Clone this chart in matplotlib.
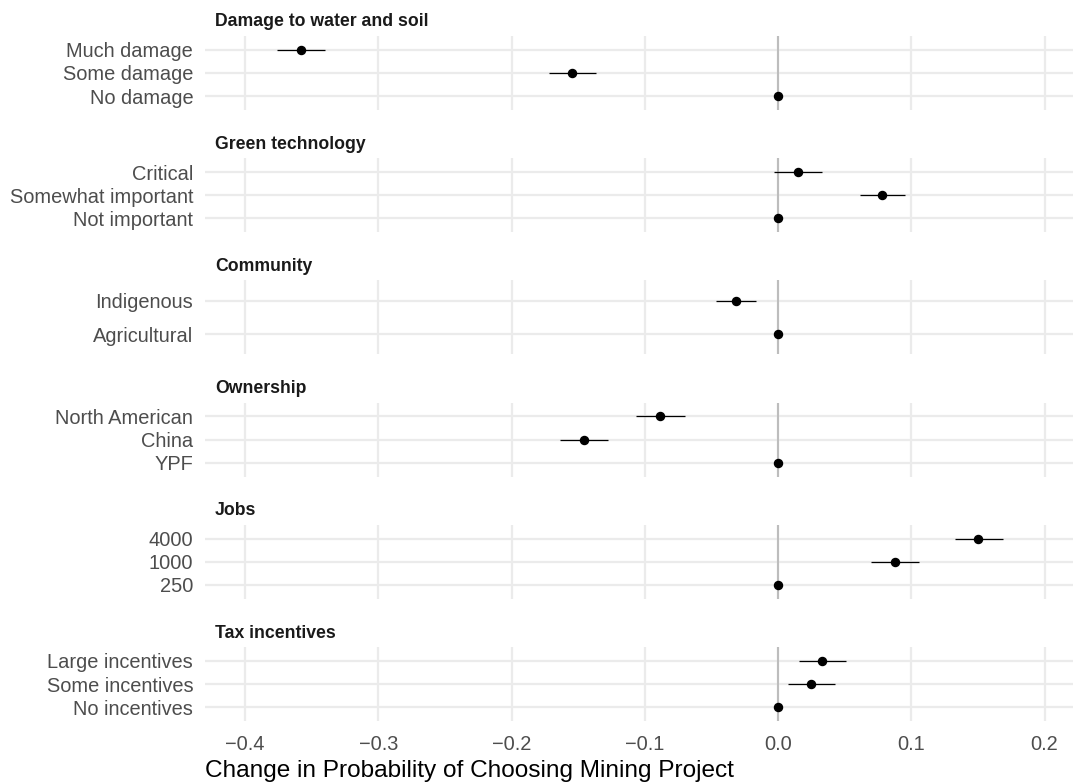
import numpy as np
import matplotlib
matplotlib.use("Agg")
from matplotlib import pyplot as plt

plt.rcParams['font.family'] = ['Liberation Sans', 'DejaVu Sans']

## Attribute groups (facets), levels listed top to bottom
groups = ["Damage to water and soil", "Green technology", "Community",
          "Ownership", "Jobs", "Tax incentives"]

levels = [["Much damage", "Some damage", "No damage"],
          ["Critical", "Somewhat important", "Not important"],
          ["Indigenous", "Agricultural"],
          ["North American", "China", "YPF"],
          ["4000", "1000", "250"],
          ["Large incentives", "Some incentives", "No incentives"]]

## point estimates
est = [[-0.358, -0.1545, 0.0],
       [0.0147, 0.0778, 0.0],
       [-0.0318, 0.0],
       [-0.0885, -0.1458, 0.0],
       [0.1503, 0.0876, 0.0],
       [0.0330, 0.0248, 0.0]]

## lower / upper interval bounds
lo = [[-0.376, -0.172, 0.0],
      [-0.003, 0.0613, 0.0],
      [-0.0463, 0.0],
      [-0.1065, -0.1635, 0.0],
      [0.1325, 0.0700, 0.0],
      [0.0157, 0.0075, 0.0]]
hi = [[-0.340, -0.1365, 0.0],
      [0.0330, 0.0953, 0.0],
      [-0.0165, 0.0],
      [-0.0698, -0.1273, 0.0],
      [0.1688, 0.1057, 0.0],
      [0.0508, 0.0426, 0.0]]

xticks = [-0.4, -0.3, -0.2, -0.1, 0.0, 0.1, 0.2]
xlabel = "Change in Probability of Choosing Mining Project"

W, H = 1073., 782.
fig = plt.figure(figsize=(W/100, H/100), dpi=100)

left_px, right_px = 205, 1073
top0, step, ph = 36, 122.2, 74

for i, g in enumerate(groups):
    top = top0 + i*step
    ax = fig.add_axes([left_px/W, 1 - (top+ph)/H, (right_px-left_px)/W, ph/H])
    n = len(levels[i])
    ypos = np.arange(n)[::-1]

    ax.axvline(0, color='#bdbdbd', lw=1.5, zorder=2)
    ax.hlines(ypos, lo[i], hi[i], color='black', lw=0.9, zorder=3)
    ax.plot(est[i], ypos, 'o', color='black', ms=5.8, zorder=4)

    ax.set_xlim(-0.43, 0.2213)
    ax.set_ylim(-0.6, n - 0.4)
    ax.set_yticks(ypos)
    ax.set_yticklabels(levels[i])
    ax.set_xticks(xticks)
    ax.grid(True, color='#ebebeb', lw=1.6, zorder=0)
    ax.set_axisbelow(True)
    for s in ax.spines.values():
        s.set_visible(False)
    ax.tick_params(length=0, labelsize=14.4, labelcolor='#4d4d4d', pad=8.5)

    if i < len(groups) - 1:
        ax.set_xticklabels([])
    else:
        ax.set_xticklabels(["\u2212%.1f" % abs(t) if t < 0 else "%.1f" % t for t in xticks])
        ax.tick_params(axis='x', pad=10)

    ## strip label, left aligned above panel
    fig.text((left_px+10)/W, 1 - (top-14)/H, g, fontsize=12.7, fontweight='bold',
             color='#1a1a1a', ha='left', va='center')

## axis title sits flush with the panel's left edge
fig.text(left_px/W, 1 - 771/H, xlabel, fontsize=17.6, color='black',
         ha='left', va='center')

fig.savefig("out.png", dpi=100, facecolor='white')
